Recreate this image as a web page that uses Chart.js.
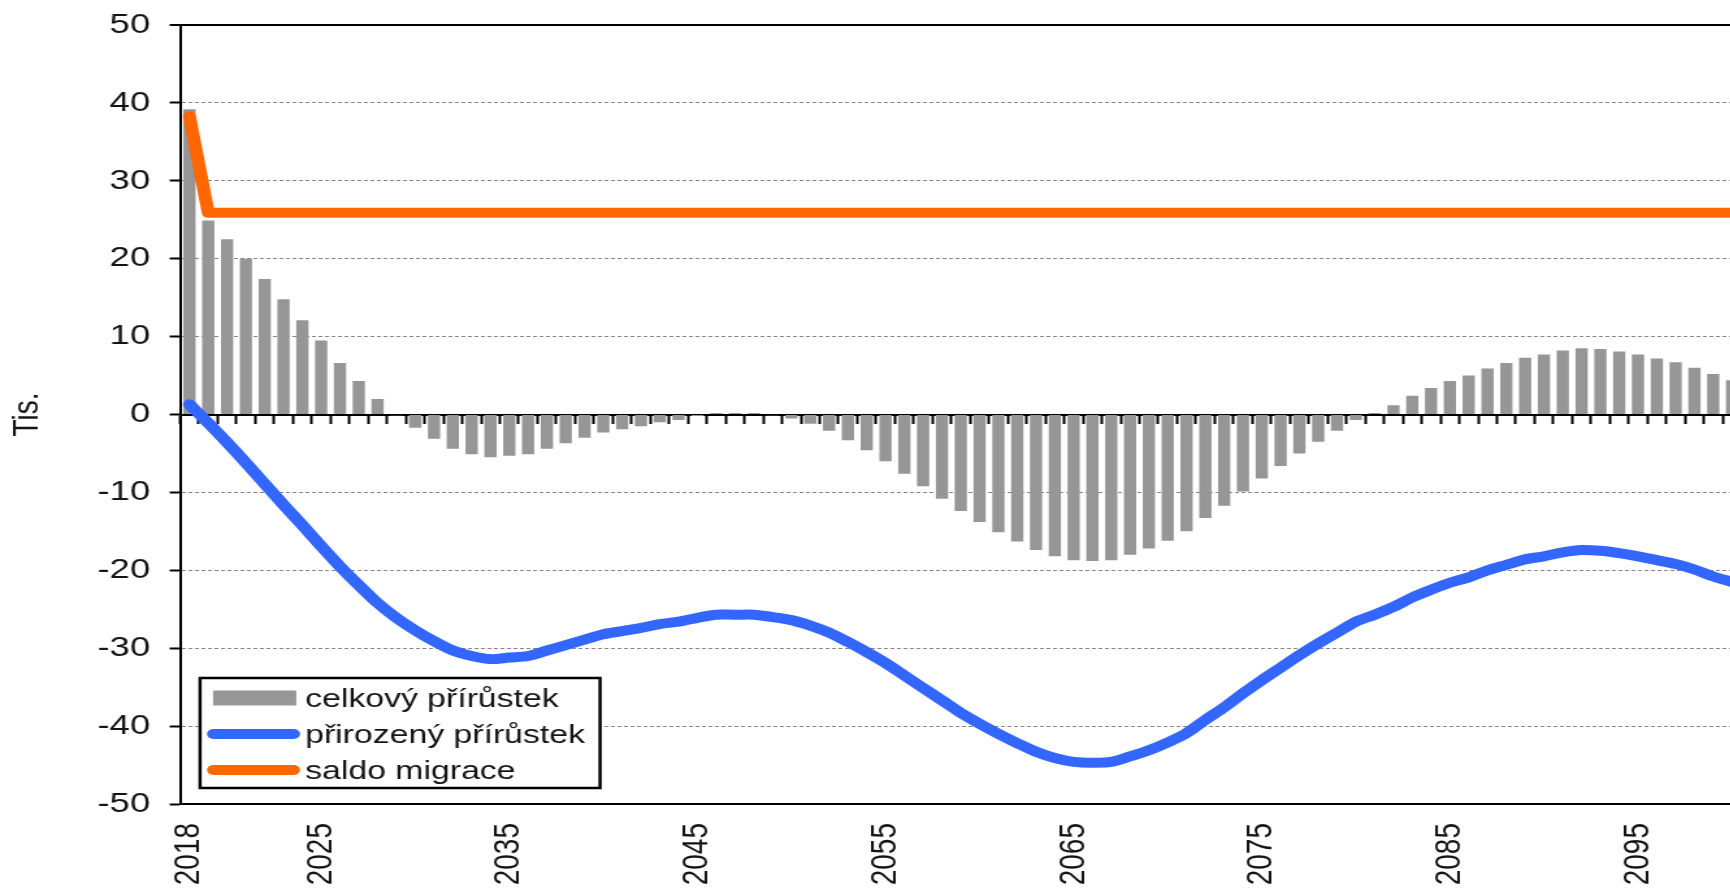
<!DOCTYPE html>
<html lang="cs">
<head>
<meta charset="utf-8">
<title>Přírůstek obyvatel</title>
<script src="https://cdn.jsdelivr.net/npm/chart.js@4.4.1/dist/chart.umd.min.js"></script>
<style>
  html, body { margin: 0; padding: 0; background: #fff; overflow: hidden; }
  #wrap {
    position: absolute; left: 0; top: 0;
    width: 1345px; height: 891px;
    transform: scaleX(1.3); transform-origin: 0 0;
  }
</style>
</head>
<body>
<div id="wrap"><canvas id="chart" width="1345" height="891"></canvas></div>
<script>
// years on the category axis
const years = [
  '2018', '2019', '2020', '2021', '2022', '2023', '2024', '2025', '2026', '2027',
  '2028', '2029', '2030', '2031', '2032', '2033', '2034', '2035', '2036', '2037',
  '2038', '2039', '2040', '2041', '2042', '2043', '2044', '2045', '2046', '2047',
  '2048', '2049', '2050', '2051', '2052', '2053', '2054', '2055', '2056', '2057',
  '2058', '2059', '2060', '2061', '2062', '2063', '2064', '2065', '2066', '2067',
  '2068', '2069', '2070', '2071', '2072', '2073', '2074', '2075', '2076', '2077',
  '2078', '2079', '2080', '2081', '2082', '2083', '2084', '2085', '2086', '2087',
  '2088', '2089', '2090', '2091', '2092', '2093', '2094', '2095', '2096', '2097',
  '2098', '2099', '2100'
];

// only these years get a label under the axis
const shownYears = ['2018', '2025', '2035', '2045', '2055', '2065', '2075', '2085', '2095'];

// thousands of persons
const totalIncrease = [
  39.2, 24.9, 22.5, 20.0, 17.4, 14.8, 12.1, 9.5, 6.6, 4.3,
  2.0, -0.1, -1.7, -3.1, -4.4, -5.1, -5.5, -5.3, -5.1, -4.4,
  -3.7, -3.0, -2.3, -1.9, -1.5, -1.0, -0.7, -0.2, 0.2, 0.2,
  0.2, -0.1, -0.5, -1.2, -2.1, -3.3, -4.6, -6.0, -7.6, -9.2,
  -10.8, -12.4, -13.8, -15.1, -16.3, -17.4, -18.2, -18.7, -18.8, -18.7,
  -18.0, -17.2, -16.2, -15.0, -13.3, -11.7, -9.9, -8.2, -6.6, -5.0,
  -3.5, -2.1, -0.7, 0.2, 1.2, 2.4, 3.4, 4.3, 5.0, 5.9,
  6.6, 7.3, 7.7, 8.2, 8.5, 8.4, 8.1, 7.7, 7.2, 6.7,
  6.0, 5.2, 4.4
];

const naturalIncrease = [
  1.3, -1.1, -3.6, -6.2, -8.9, -11.6, -14.2, -16.9, -19.5, -21.9,
  -24.2, -26.1, -27.7, -29.1, -30.3, -31.0, -31.4, -31.2, -31.0, -30.3,
  -29.6, -28.9, -28.2, -27.8, -27.4, -26.9, -26.6, -26.1, -25.7, -25.7,
  -25.7, -26.0, -26.4, -27.1, -28.0, -29.2, -30.5, -31.9, -33.5, -35.1,
  -36.7, -38.3, -39.7, -41.0, -42.2, -43.3, -44.1, -44.6, -44.7, -44.6,
  -43.9, -43.1, -42.1, -40.9, -39.2, -37.6, -35.8, -34.1, -32.5, -30.9,
  -29.4, -28.0, -26.6, -25.7, -24.7, -23.5, -22.5, -21.6, -20.9, -20.0,
  -19.3, -18.6, -18.2, -17.7, -17.4, -17.5, -17.8, -18.2, -18.7, -19.2,
  -19.9, -20.8, -21.5
];

const netMigration = [
  38.3, 25.9, 25.9, 25.9, 25.9, 25.9, 25.9, 25.9, 25.9, 25.9,
  25.9, 25.9, 25.9, 25.9, 25.9, 25.9, 25.9, 25.9, 25.9, 25.9,
  25.9, 25.9, 25.9, 25.9, 25.9, 25.9, 25.9, 25.9, 25.9, 25.9,
  25.9, 25.9, 25.9, 25.9, 25.9, 25.9, 25.9, 25.9, 25.9, 25.9,
  25.9, 25.9, 25.9, 25.9, 25.9, 25.9, 25.9, 25.9, 25.9, 25.9,
  25.9, 25.9, 25.9, 25.9, 25.9, 25.9, 25.9, 25.9, 25.9, 25.9,
  25.9, 25.9, 25.9, 25.9, 25.9, 25.9, 25.9, 25.9, 25.9, 25.9,
  25.9, 25.9, 25.9, 25.9, 25.9, 25.9, 25.9, 25.9, 25.9, 25.9,
  25.9, 25.9, 25.9
];

const FONT = '"Liberation Sans", Arial, Helvetica, sans-serif';
const TEXT = '#141414';
const GRID = '#858585';

Chart.defaults.font.family = FONT;
Chart.defaults.color = TEXT;

// boxed legend in the lower left corner of the plot
const boxLegend = {
  id: 'boxLegend',
  afterDraw(chart) {
    const { ctx, chartArea } = chart;
    const left = chartArea.left + 15.4;
    const width = 307.7;
    const height = 110;
    const top = chartArea.bottom - 16 - height;

    ctx.save();
    ctx.fillStyle = '#fff';
    ctx.fillRect(left, top, width, height);
    ctx.lineWidth = 2.5;
    ctx.strokeStyle = '#000';
    ctx.strokeRect(left, top, width, height);

    ctx.font = '26px ' + FONT;
    ctx.textBaseline = 'alphabetic';
    chart.data.datasets.forEach((ds, i) => {
      const base = top + 29 + i * 36;
      const mid = base - 9;
      if (ds.type === 'bar') {
        ctx.fillStyle = ds.backgroundColor;
        ctx.fillRect(left + 10, mid - 7.5, 64, 15);
      } else {
        ctx.strokeStyle = ds.borderColor;
        ctx.lineWidth = 10;
        ctx.lineCap = 'round';
        ctx.beginPath();
        ctx.moveTo(left + 10.3, mid);
        ctx.lineTo(left + 71.9, mid);
        ctx.stroke();
      }
      ctx.fillStyle = TEXT;
      ctx.fillText(ds.label, left + 80.8, base);
    });
    ctx.restore();
  }
};

new Chart(document.getElementById('chart'), {
  type: 'bar',
  data: {
    labels: years,
    datasets: [
      {
        type: 'bar',
        label: 'celkový přírůstek',
        data: totalIncrease,
        backgroundColor: '#969696',
        barPercentage: 0.65,
        categoryPercentage: 1,
        xAxisID: 'x',
        yAxisID: 'y',
        order: 3
      },
      {
        type: 'line',
        label: 'přirozený přírůstek',
        data: naturalIncrease,
        borderColor: '#3366ff',
        borderWidth: 10,
        pointRadius: 0,
        tension: 0.3,
        borderCapStyle: 'round',
        borderJoinStyle: 'round',
        xAxisID: 'x',
        yAxisID: 'y',
        order: 1
      },
      {
        type: 'line',
        label: 'saldo migrace',
        data: netMigration,
        borderColor: '#ff6600',
        borderWidth: 10,
        pointRadius: 0,
        tension: 0,
        borderCapStyle: 'round',
        borderJoinStyle: 'round',
        xAxisID: 'x',
        yAxisID: 'y',
        order: 2
      }
    ]
  },
  options: {
    responsive: false,
    animation: false,
    layout: { padding: { top: 25, right: 5.4, bottom: 0, left: 0 } },
    plugins: {
      legend: { display: false },
      tooltip: { enabled: false }
    },
    scales: {
      x: {
        type: 'category',
        offset: true,
        grid: { display: false, drawTicks: false, offset: true },
        border: { display: true, color: '#000', width: 2 },
        ticks: {
          autoSkip: false,
          minRotation: 90,
          maxRotation: 90,
          padding: 19,
          color: TEXT,
          font: { size: 28 },
          callback: function (value) {
            const label = this.getLabelForValue(value);
            return shownYears.includes(label) ? label : null;
          }
        },
        afterFit(scale) {
          scale.height = 87;
          scale.paddingLeft = 0;
          scale.paddingRight = 0;
        }
      },
      // zero line with the small year ticks under it
      x0: {
        axis: 'x',
        type: 'category',
        position: { y: 0 },
        offset: true,
        z: 1,
        grid: {
          offset: true,
          drawOnChartArea: false,
          drawTicks: true,
          tickLength: 8,
          tickWidth: 2,
          tickColor: '#000'
        },
        border: { display: true, color: '#000', width: 2 },
        ticks: { display: false }
      },
      y: {
        type: 'linear',
        min: -50,
        max: 50,
        ticks: { stepSize: 10, padding: 15, color: TEXT, font: { size: 28 } },
        grid: {
          color: c => (c.tick.value % 50 === 0 ? '#000' : GRID),
          lineWidth: c => (c.tick.value === 50 ? 2 : 1),
          tickLength: 8,
          tickWidth: 2,
          tickColor: '#000'
        },
        border: {
          color: '#000',
          width: 2,
          dash: c => (c.tick && c.tick.value % 50 !== 0 ? [3, 2] : [])
        },
        title: {
          display: true,
          text: 'Tis.',
          color: TEXT,
          font: { size: 28 },
          padding: { top: 4, bottom: 0 }
        },
        afterFit(scale) {
          scale.width = 138.5;
          scale.paddingTop = 0;
          scale.paddingBottom = 0;
        }
      }
    }
  },
  plugins: [boxLegend]
});
</script>
</body>
</html>
